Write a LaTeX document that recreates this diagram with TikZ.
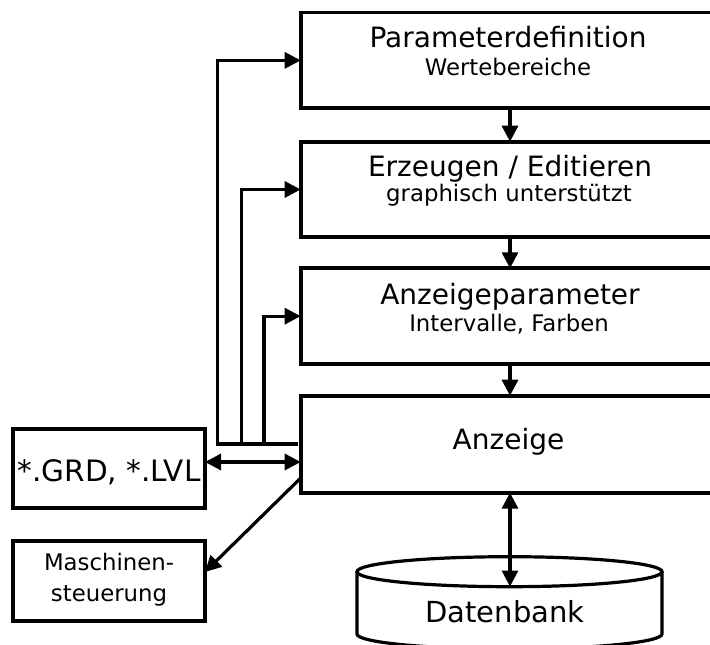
\documentclass[tikz,border=0pt]{standalone}
\usepackage{fontspec}
\setmainfont{DejaVu Sans}
\usetikzlibrary{arrows.meta}
\begin{document}
\begin{tikzpicture}[x=1pt,y=-1pt,
  boxstyle/.style={draw, line width=3.8pt, inner sep=0pt, outer sep=0pt},
  conn/.style={line width=3.2pt, -{Triangle[length=16pt,width=16pt]}},
  dconn/.style={line width=3.2pt, {Triangle[length=16pt,width=16pt]}-{Triangle[length=16pt,width=16pt]}},
  plain/.style={line width=3.2pt},
  title/.style={anchor=base, inner sep=0pt, outer sep=0pt, font=\fontsize{28}{34}\selectfont},
  sub/.style={anchor=base, inner sep=0pt, outer sep=0pt, font=\fontsize{22.8}{27}\selectfont}]
\useasboundingbox (0,0) rectangle (710,645);
\clip (0,0) rectangle (710,645);
% boxes
\node[boxstyle, minimum width=418.6pt, minimum height=95.6pt] (P) at (510,60.35) {};
\node[boxstyle, minimum width=418.6pt, minimum height=95.6pt] (E) at (510,189.5) {};
\node[boxstyle, minimum width=418.6pt, minimum height=95.7pt] (A) at (510,316.15) {};
\node[boxstyle, minimum width=418.6pt, minimum height=97pt] (Anz) at (510,444.2) {};
\node[boxstyle, minimum width=192.3pt, minimum height=79pt] (GRD) at (108.85,468.5) {};
\node[boxstyle, minimum width=192.3pt, minimum height=80pt] (MS) at (108.85,580.7) {};
% texts
\node[title] (tP) at (508,47.7) {Parameterdefinition};
\node[sub] (sP) at (508,75) {Wertebereiche};
\node[title] (tE) at (510,176) {Erzeugen / Editieren};
\node[sub] (sE) at (509,201.7) {graphisch unterstützt};
\node[title] (tA) at (510,304) {Anzeigeparameter};
\node[sub] (sA) at (509,331.3) {Intervalle, Farben};
\node[title] (tAnz) at (508.5,449.3) {Anzeige};
\node[title, font=\fontsize{29.5}{34}\selectfont] (tG) at (109,481) {*.GRD, *.LVL};
\node[sub] (tM1) at (109,570.7) {Maschinen-};
\node[sub] (tM2) at (109,601.7) {steuerung};
% database cylinder
\draw[plain] (357,572) -- (357,634) arc[start angle=180, end angle=360, x radius=152.5pt, y radius=15pt] -- (662,572);
\draw[plain] (509.5,571.7) ellipse [x radius=152.5pt, y radius=15pt];
\node[title, font=\fontsize{29}{34}\selectfont] (db) at (505,622.3) {Datenbank};
\coordinate (dbtop) at (510,586.5);
% chain arrows
\draw[conn] (P.south) -- (E.north);
\draw[conn] (E.south) -- (A.north);
\draw[conn] (A.south) -- (Anz.north);
\draw[dconn] (Anz.south) -- (dbtop);
% feedback lines
\coordinate (hubR) at (297.7,444);
\coordinate (h1) at (217.7,444);
\coordinate (h2) at (241.7,444);
\coordinate (h3) at (264,444);
\draw[conn] (hubR) -- (h1) |- (P.west);
\draw[conn] (h2) |- (E.west);
\draw[conn] (h3) |- (A.west);
% file exchange
\coordinate (g1) at ([yshift=6.5pt]GRD.east);
\draw[dconn] (g1) -- (g1 -| Anz.west);
% machine control
\coordinate (m1) at ([yshift=-33.8pt]Anz.west);
\coordinate (m2) at ([yshift=8.7pt]MS.east);
\draw[conn] (m1) -- (m2);
\end{tikzpicture}
\end{document}
